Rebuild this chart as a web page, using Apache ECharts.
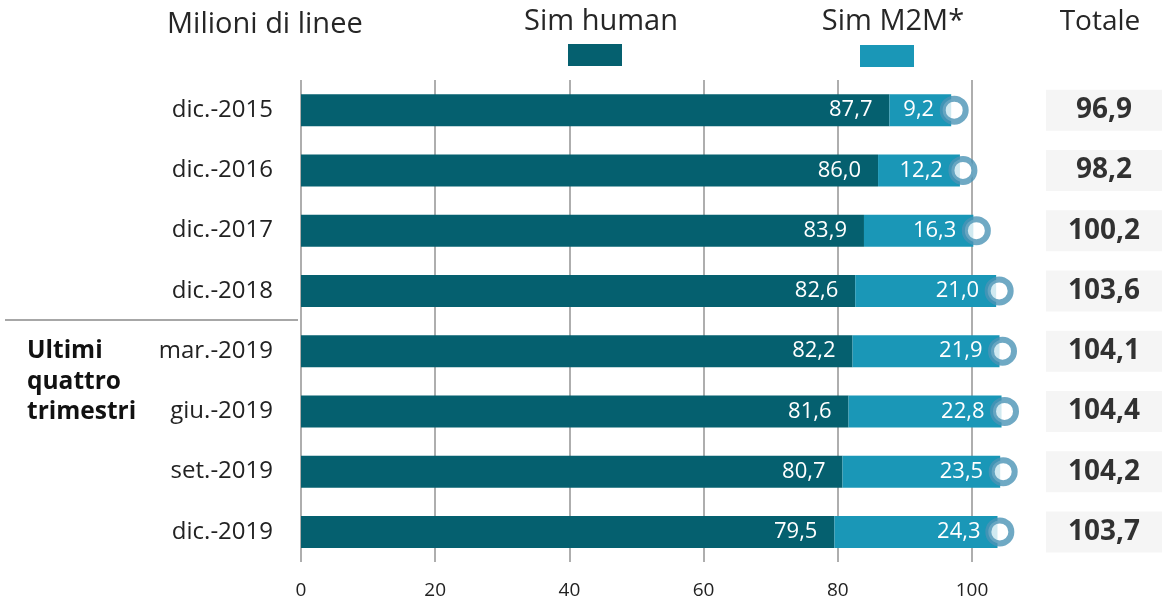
<!DOCTYPE html>
<html><head><meta charset="utf-8">
<script src="https://cdn.jsdelivr.net/npm/echarts@6/dist/echarts.min.js"></script>
<style>html,body{margin:0;padding:0;background:#fff}#c{width:1165px;height:606px}</style>
</head><body><div id="c"></div>
<script>
const categories = ['dic.-2015','dic.-2016','dic.-2017','dic.-2018','mar.-2019','giu.-2019','set.-2019','dic.-2019'];
const simHuman = [87.7, 86.0, 83.9, 82.6, 82.2, 81.6, 80.7, 79.5];
const simM2M = [9.2, 12.2, 16.3, 21.0, 21.9, 22.8, 23.5, 24.3];
const totals = [96.9, 98.2, 100.2, 103.6, 104.1, 104.4, 104.2, 103.7];
const xTicks = [0, 20, 40, 60, 80, 100];

const FONT = '"Open Sans", "Noto Sans", sans-serif';
const DARK = '#05606f';
const LIGHT = '#1a97b7';
const fmt = v => v.toFixed(1).replace('.', ',');

const chart = echarts.init(document.getElementById('c'), null, {renderer: 'canvas'});
chart.setOption({
  animation: false,
  textStyle: {fontFamily: FONT},
  grid: [
    {left: 301, right: 193, top: 80, bottom: 44},
    {left: 1046, width: 116, top: 80, bottom: 44}
  ],
  xAxis: [
    {type: 'value', gridIndex: 0, min: xTicks[0], max: xTicks[xTicks.length - 1], interval: 20,
     axisLine: {show: false}, axisTick: {show: false},
     splitLine: {show: true, lineStyle: {color: '#9a9a9a', width: 1.6}},
     axisLabel: {color: '#222', fontSize: 19, fontFamily: FONT, margin: 19}},
    {type: 'value', gridIndex: 1, min: 0, max: 1, show: false}
  ],
  yAxis: [
    {type: 'category', gridIndex: 0, data: categories, inverse: true,
     axisLine: {show: false}, axisTick: {show: false}, splitLine: {show: false},
     axisLabel: {color: '#222', fontSize: 24, fontFamily: FONT, margin: 28}},
    {type: 'category', gridIndex: 1, data: categories, inverse: true, show: false}
  ],
  series: [
    {name: 'Sim human', type: 'bar', stack: 'tot', xAxisIndex: 0, yAxisIndex: 0,
     data: simHuman, barWidth: 32, clip: false, itemStyle: {color: DARK},
     label: {show: true, position: 'insideRight', distance: 17, color: '#fff', fontSize: 22, fontFamily: FONT,
             formatter: p => fmt(p.value)}},
    {name: 'Sim M2M*', type: 'bar', stack: 'tot', xAxisIndex: 0, yAxisIndex: 0,
     data: simM2M, barWidth: 32, clip: false, itemStyle: {color: LIGHT},
     label: {show: true, position: 'insideRight', distance: 17, color: '#fff', fontSize: 22, fontFamily: FONT,
             formatter: p => fmt(p.value)}},
    {name: 'marker', type: 'scatter', xAxisIndex: 0, yAxisIndex: 0, clip: false, z: 5,
     data: totals.map((t, i) => [t, i]), symbol: 'circle', symbolSize: 23, symbolOffset: [3, 0],
     itemStyle: {color: '#fff', borderColor: '#4b94b5', borderWidth: 6}},
    {name: 'Totale', type: 'scatter', xAxisIndex: 1, yAxisIndex: 1,
     data: totals.map((t, i) => [0.5, i, t]), symbol: 'rect', symbolSize: [116, 41],
     itemStyle: {color: '#f2f2f2'},
     label: {show: true, position: 'inside', color: '#000', fontSize: 28, fontWeight: 'bold', fontFamily: FONT,
             formatter: p => fmt(p.value[2])}}
  ],
  graphic: [
    {type: 'text', left: 167, top: 10, style: {text: 'Milioni di linee', font: '29px ' + FONT, fill: '#262626'}},
    {type: 'text', x: 601, y: 22, style: {text: 'Sim human', font: '29px ' + FONT, fill: '#262626', align: 'center', verticalAlign: 'middle'}},
    {type: 'rect', shape: {x: 568, y: 44, width: 54, height: 22}, style: {fill: DARK}},
    {type: 'text', x: 893, y: 22, style: {text: 'Sim M2M*', font: '29px ' + FONT, fill: '#262626', align: 'center', verticalAlign: 'middle'}},
    {type: 'rect', shape: {x: 860, y: 45, width: 54, height: 22}, style: {fill: LIGHT}},
    {type: 'text', x: 1100, y: 22, style: {text: 'Totale', font: '28px ' + FONT, fill: '#262626', align: 'center', verticalAlign: 'middle'}},
    {type: 'line', shape: {x1: 5, y1: 320, x2: 298, y2: 320}, style: {stroke: '#8a8a8a', lineWidth: 1.6}},
    {type: 'text', left: 27, top: 336, style: {text: 'Ultimi\nquattro\ntrimestri', font: 'bold 24.5px ' + FONT, fill: '#111', lineHeight: 30.5}}
  ]
});
</script></body></html>
